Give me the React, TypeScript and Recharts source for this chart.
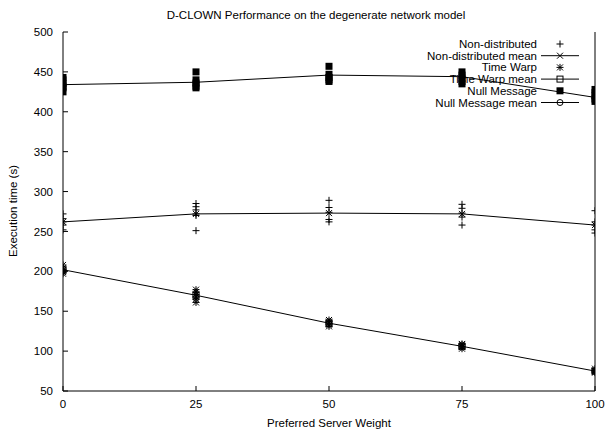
import React from 'react';
import { ScatterChart, Scatter, XAxis, YAxis, Legend } from 'recharts';

const weights = [0, 25, 50, 75, 100];
const nonDistributed = [
  [252, 258, 262, 266, 272],
  [285, 281, 277, 272, 270, 251],
  [289, 280, 274, 265, 262],
  [284, 279, 273, 268, 258],
  [276, 262, 258, 252, 248],
];
const nonDistributedMean = [262, 272, 273, 272, 258];
const timeWarp = [
  [197, 199, 202, 204, 208],
  [161, 165, 168, 171, 174, 177],
  [131, 133, 135, 137, 139],
  [103, 105, 106, 108, 109],
  [73, 74, 75, 76, 78],
];
const timeWarpMean = [202, 170, 135, 106, 75];
const nullMessage = [
  [425, 430, 432, 435, 440, 443],
  [430, 432, 436, 440, 450],
  [457, 447, 443, 440, 438],
  [450, 446, 442, 438, 435],
  [428, 424, 420, 416, 413],
];
const nullMessageMean = [434, 437, 446, 444, 418];
const xTicks = [0, 25, 50, 75, 100];
const yTicks = [50, 100, 150, 200, 250, 300, 350, 400, 450, 500];
const seriesNames = [
  'Non-distributed',
  'Non-distributed mean',
  'Time Warp',
  'Time Warp mean',
  'Null Message',
  'Null Message mean',
];
const titleText = 'D-CLOWN Performance on the degenerate network model';
const xLabel = 'Preferred Server Weight';
const yLabel = 'Execution time (s)';

const pts = (arr: number[][]) => weights.flatMap((w, i) => arr[i].map((v) => ({ x: w, y: v })));
const means = (arr: number[]) => weights.map((w, i) => ({ x: w, y: arr[i] }));

const FONT = '"Liberation Sans", Arial, Helvetica, sans-serif';

const Plus = ({ cx, cy }: any) => (
  <g stroke="#000" strokeWidth={1}>
    <line x1={cx - 3.5} y1={cy} x2={cx + 3.5} y2={cy} />
    <line x1={cx} y1={cy - 3.5} x2={cx} y2={cy + 3.5} />
  </g>
);
const Cross = ({ cx, cy }: any) => (
  <g stroke="#000" strokeWidth={1}>
    <line x1={cx - 3} y1={cy - 3} x2={cx + 3} y2={cy + 3} />
    <line x1={cx - 3} y1={cy + 3} x2={cx + 3} y2={cy - 3} />
  </g>
);
const Star = ({ cx, cy }: any) => (
  <g stroke="#000" strokeWidth={1}>
    <line x1={cx - 3.5} y1={cy} x2={cx + 3.5} y2={cy} />
    <line x1={cx} y1={cy - 3.5} x2={cx} y2={cy + 3.5} />
    <line x1={cx - 3} y1={cy - 3} x2={cx + 3} y2={cy + 3} />
    <line x1={cx - 3} y1={cy + 3} x2={cx + 3} y2={cy - 3} />
  </g>
);
const BoxOpen = ({ cx, cy }: any) => (
  <rect x={cx - 3} y={cy - 3} width={6} height={6} fill="none" stroke="#000" strokeWidth={1} />
);
const BoxFilled = ({ cx, cy }: any) => (
  <rect x={cx - 3.5} y={cy - 3.5} width={7} height={7} fill="#000" stroke="none" />
);
const CircleOpen = ({ cx, cy }: any) => (
  <circle cx={cx} cy={cy} r={3} fill="none" stroke="#000" strokeWidth={1} />
);

const markers = [Plus, Cross, Star, BoxOpen, BoxFilled, CircleOpen];
const hasLine = [false, true, false, true, false, true];

const LegendBox = () => (
  <svg width={220} height={75} style={{ display: 'block', overflow: 'visible' }}>
    {seriesNames.map((name, i) => {
      const y = 7 + i * 11.7;
      const M = markers[i];
      return (
        <g key={name}>
          <text x={157} y={y} textAnchor="end" dominantBaseline="central" fontSize={11.5} fontFamily={FONT} fill="#000">
            {name}
          </text>
          {hasLine[i] && <line x1={161} y1={y} x2={199} y2={y} stroke="#000" strokeWidth={1} />}
          <M cx={180} cy={y} />
        </g>
      );
    })}
  </svg>
);

const axisTick = { fill: '#000', fontSize: 11.5, fontFamily: FONT };
const axisLine = { stroke: '#000', strokeWidth: 1 };

export default function App() {
  return (
    <div style={{ position: 'absolute', left: 0, top: 0, width: 606, height: 430, background: '#fff', fontFamily: FONT }}>
      <ScatterChart width={606} height={430} margin={{ top: 32, right: 0, bottom: 0, left: 0 }}>
        <XAxis
          xAxisId="b"
          type="number"
          dataKey="x"
          domain={[0, 100]}
          ticks={xTicks}
          orientation="bottom"
          height={39}
          tickSize={-5}
          tickMargin={14}
          tick={axisTick}
          axisLine={axisLine}
          tickLine={axisLine}
          allowDataOverflow
        />
        <XAxis
          xAxisId="t"
          type="number"
          dataKey="x"
          domain={[0, 100]}
          ticks={xTicks}
          orientation="top"
          height={0}
          tickSize={-5}
          tick={false}
          axisLine={axisLine}
          tickLine={axisLine}
          allowDataOverflow
        />
        <YAxis
          yAxisId="l"
          type="number"
          dataKey="y"
          domain={[50, 500]}
          ticks={yTicks}
          orientation="left"
          width={63}
          tickSize={-5}
          tickMargin={15}
          tick={axisTick}
          axisLine={axisLine}
          tickLine={axisLine}
          allowDataOverflow
        />
        <YAxis
          yAxisId="r"
          type="number"
          dataKey="y"
          domain={[50, 500]}
          ticks={yTicks}
          orientation="right"
          width={11}
          tickSize={-5}
          tick={false}
          axisLine={axisLine}
          tickLine={axisLine}
          allowDataOverflow
        />
        <Legend layout="horizontal" verticalAlign="middle" align="center" wrapperStyle={{ position: 'absolute', left: 380, top: 37, width: 220, height: 75 }} content={() => <LegendBox />} />
        <Scatter name={seriesNames[0]} data={pts(nonDistributed)} xAxisId="b" yAxisId="l" shape={Plus} isAnimationActive={false} />
        <Scatter name={seriesNames[1]} data={means(nonDistributedMean)} xAxisId="b" yAxisId="l" shape={Cross} line={{ stroke: '#000', strokeWidth: 1 }} isAnimationActive={false} />
        <Scatter name={seriesNames[2]} data={pts(timeWarp)} xAxisId="b" yAxisId="l" shape={Star} isAnimationActive={false} />
        <Scatter name={seriesNames[3]} data={means(timeWarpMean)} xAxisId="b" yAxisId="l" shape={BoxOpen} line={{ stroke: '#000', strokeWidth: 1 }} isAnimationActive={false} />
        <Scatter name={seriesNames[4]} data={pts(nullMessage)} xAxisId="b" yAxisId="l" shape={BoxFilled} isAnimationActive={false} />
        <Scatter name={seriesNames[5]} data={means(nullMessageMean)} xAxisId="b" yAxisId="l" shape={CircleOpen} line={{ stroke: '#000', strokeWidth: 1 }} isAnimationActive={false} />
      </ScatterChart>
      <div style={{ position: 'absolute', left: 0, width: 632, top: 8, textAlign: 'center', fontSize: 11.5, lineHeight: '14px', color: '#000' }}>{titleText}</div>
      <div style={{ position: 'absolute', left: 63, width: 532, top: 416, textAlign: 'center', fontSize: 11.5, lineHeight: '14px', color: '#000' }}>{xLabel}</div>
      <div
        style={{
          position: 'absolute',
          left: 13,
          top: 211,
          transform: 'translate(-50%, -50%) rotate(-90deg)',
          whiteSpace: 'nowrap',
          fontSize: 11.5,
          lineHeight: '14px',
          color: '#000',
        }}
      >
        {yLabel}
      </div>
    </div>
  );
}
